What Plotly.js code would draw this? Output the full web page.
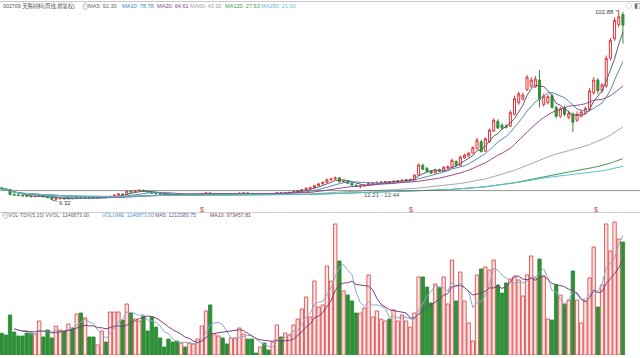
<!DOCTYPE html>
<html><head><meta charset="utf-8">
<script src="https://cdn.plot.ly/plotly-3.0.1.min.js"></script>
<style>html,body{margin:0;padding:0;background:#ffffff;}#chart{width:640px;height:358px;}</style>
</head><body><div id="chart"></div>
<script>
// Weekly candles (前复权), oldest -> newest
const opens = [12.6,12.1,11.6,9.2,8.9,8.7,8.5,8.3,8.0,8.2, 8.5,7.9,7.5,6.7,6.9,7.1,6.9,7.2,7.0,7.5, 7.2,7.6,7.4,7.3,7.4,7.6,7.5,8.2,8.8,9.4, 9.1,10.8,10.4,11.0,11.3,10.7,10.4,9.8,9.5,9.3, 9.2,9.0,8.9,8.8,8.9,8.8,8.9,9.0,9.1,9.4, 9.9,9.3,9.5,9.6,9.4,9.3,9.4,9.5,9.8,9.9, 9.7,9.6,9.55,9.6,9.5,9.45,9.6,10.0,9.8,10.0, 10.2,10.6,11.0,11.6,12.3,12.6,13.6,14.5,15.3,16.6, 17.0,17.6,15.6,16.0,14.8,13.9,13.2,13.4,13.9,14.8, 15.0,15.3,15.5,15.7,15.4,15.9,16.1,16.4,16.6,16.8, 19.0,24.0,22.5,21.0,20.0,21.8,21.0,22.6,22.8,26.0, 24.0,27.8,28.8,30.2,32.5,36.0,31.2,36.0,41.5,46.5, 44.5,44.0,44.0,50.0,56.0,57.8,62.5,64.5,64.0,67.5, 55.0,56.0,59.5,53.5,49.0,53.5,48.5,50.0,47.0,49.0, 50.5,52.5,61.0,67.5,62.0,64.5,78.6,88.5,95.8,101.0];
const highs = [12.9,12.3,11.8,9.5,9.1,8.9,8.7,8.5,8.4,8.9, 8.6,8.0,7.6,7.1,7.3,7.2,7.4,7.3,7.7,7.6, 7.8,7.7,7.5,7.5,7.8,7.7,8.4,9.0,9.6,9.6, 11.2,11.0,11.4,11.6,11.5,10.9,10.5,9.9,9.6,9.4, 9.3,9.1,9.0,9.0,8.95,9.0,9.1,9.2,9.6,10.1, 10.2,9.7,9.8,9.7,9.5,9.5,9.6,10.0,10.1,10.0, 9.8,9.65,9.7,9.65,9.55,9.7,10.2,10.1,10.2,10.4, 10.8,11.3,11.9,12.7,13.0,14.0,15.0,15.8,17.3,17.6, 18.3,17.9,16.5,16.2,15.0,14.1,13.7,14.2,15.2,15.4, 15.6,15.8,16.0,15.9,16.2,16.4,16.7,16.9,17.1,19.4, 25.0,24.8,23.0,21.5,22.3,22.3,23.6,24.0,27.3,26.5, 29.0,30.0,30.8,33.6,38.0,37.0,38.2,42.8,48.0,47.5, 45.5,45.0,52.0,59.5,61.5,61.0,70.0,69.0,69.5,72.6, 60.5,60.0,60.5,54.5,53.8,54.5,52.0,51.0,51.5,52.5, 54.0,63.5,69.0,68.5,66.0,80.0,89.0,99.5,102.88,102.2];
const lows = [11.8,11.4,8.8,8.5,8.4,8.2,8.0,7.8,7.9,8.0, 7.8,7.3,6.32,6.5,6.8,6.7,6.8,6.8,6.9,7.0, 7.1,7.3,7.2,7.2,7.3,7.4,7.4,8.1,8.7,8.9, 9.0,10.1,10.3,10.9,10.5,10.2,9.6,9.3,9.1,9.1, 8.9,8.8,8.7,8.7,8.7,8.75,8.85,8.9,9.0,9.3, 9.2,9.2,9.4,9.3,9.2,9.2,9.3,9.4,9.7,9.6, 9.5,9.5,9.5,9.4,9.4,9.4,9.5,9.7,9.7,9.9, 10.1,10.5,10.9,11.5,12.1,12.4,13.4,14.2,15.0,16.2, 16.6,15.3,15.2,14.6,13.6,12.9,12.21,13.2,13.8,14.6, 14.9,15.1,15.3,15.2,15.3,15.8,16.0,16.3,16.5,16.7, 18.8,21.5,20.5,19.6,19.8,20.6,20.8,22.2,22.5,23.5, 23.6,27.4,28.4,30.0,32.2,30.5,30.8,35.5,41.0,42.5, 42.0,42.8,43.5,49.5,55.0,57.0,62.0,63.5,63.5,53.5, 54.0,55.0,53.0,48.0,48.2,49.0,47.5,41.0,46.0,48.5, 50.0,51.5,60.0,60.5,61.0,63.5,77.5,87.5,94.5,86.0];
const closes = [12.0,11.6,9.0,8.8,8.6,8.4,8.2,8.0,8.2,8.5, 7.9,7.5,6.7,6.9,7.1,6.9,7.2,7.0,7.5,7.2, 7.6,7.4,7.3,7.4,7.6,7.5,8.2,8.8,9.4,9.1, 10.8,10.4,11.0,11.3,10.7,10.4,9.8,9.5,9.3,9.2, 9.0,8.9,8.8,8.9,8.8,8.9,9.0,9.1,9.4,9.9, 9.3,9.5,9.6,9.4,9.3,9.4,9.5,9.8,9.9,9.7, 9.6,9.55,9.6,9.5,9.45,9.6,10.0,9.8,10.0,10.2, 10.6,11.0,11.6,12.3,12.6,13.6,14.5,15.3,16.6,17.0, 17.6,15.6,16.0,14.8,13.9,13.2,13.4,13.9,14.8,15.0, 15.3,15.5,15.7,15.4,15.9,16.1,16.4,16.6,16.8,19.0, 24.2,22.0,21.0,20.0,21.5,21.0,23.0,23.2,26.5,24.0, 28.2,29.2,30.2,33.0,36.8,31.0,37.6,42.0,47.0,43.0, 43.2,43.5,51.0,58.0,60.5,59.8,69.0,67.5,68.0,57.5, 59.0,59.0,53.5,49.0,52.8,50.0,50.5,46.0,50.0,51.2, 53.0,62.0,67.5,62.0,65.0,78.5,87.8,98.0,99.8,95.5];
const volumes = [220000,203000,406000,233000,193000,193000,223000,223000,213000,345000,
183000,254000,173000,294000,254000,244000,315000,274000,416000,426000,
376000,183000,183000,102000,244000,132000,436000,436000,436000,355000,
518000,426000,365000,345000,396000,244000,386000,284000,173000,81000,
162000,132000,142000,122000,81000,122000,112000,162000,294000,447000,
508000,213000,193000,173000,112000,173000,173000,274000,213000,162000,
162000,20000,81000,122000,51000,132000,305000,183000,223000,203000,
305000,365000,467000,589000,386000,751000,487000,508000,903000,751000,
1330000,954000,650000,609000,548000,426000,426000,477000,812000,386000,
447000,365000,345000,365000,457000,345000,406000,345000,284000,426000,
792000,792000,690000,528000,721000,690000,792000,518000,964000,548000,
842000,548000,325000,142000,812000,873000,893000,863000,964000,711000,
629000,731000,771000,792000,761000,599000,812000,1005000,782000,974000,
802000,365000,355000,711000,609000,518000,558000,853000,558000,325000,
548000,782000,1096000,487000,711000,1330000,1056000,1350000,1177000,1146873];

const priceMAPeriods = [5,10,20,60,120,250];
const priceMAColors = ['#5e5e5e','#5b86b8','#9c4a8c','#a8a8a8','#3f9a4c','#5cc2d2'];
const volMAPeriods = [5,10];
const volMAColors = ['#8fa8c8','#7b3f78'];

const headerTexts = ['002709 天赐材料(周线,前复权)','MA5: 92.30','MA10: 78.78','MA20: 64.61','MA60: 43.92','MA120: 27.53','MA250: 21.00'];
const volHeaderTexts = ['VOL-TDX(5,10) VVOL: 1146873.00','VOLUME: 1146873.00','MA5: 1212383.75','MA10: 973457.81'];

function movingAvg(arr, n, startAt) {
  return arr.map((_, i) => {
    if (i < startAt) return null;
    const s = Math.max(0, i - n + 1);
    let sum = 0;
    for (let k = s; k <= i; k++) sum += arr[k];
    return sum / (i - s + 1);
  });
}

const xs = closes.map((_, i) => i);
const up = closes.map((c, i) => c >= opens[i]);

const traces = [];
traces.push({
  type: 'bar', x: xs, y: volumes, xaxis: 'x', yaxis: 'y2', width: 0.8,
  marker: {color: up.map(u => u ? '#fde6e6' : '#2f8f38'),
           line: {color: up.map(u => u ? '#e04a4a' : '#2f8f38'), width: 0.9}},
  hoverinfo: 'skip'
});
traces.push({
  type: 'candlestick', x: xs, open: opens, high: highs, low: lows, close: closes,
  xaxis: 'x', yaxis: 'y', whiskerwidth: 0,
  increasing: {line: {color: '#e2333b', width: 1}, fillcolor: '#ffffff'},
  decreasing: {line: {color: '#2f9138', width: 1}, fillcolor: '#2f9138'},
  hoverinfo: 'skip'
});
priceMAPeriods.forEach((p, k) => {
  traces.push({type: 'scatter', mode: 'lines', x: xs, y: movingAvg(closes, p, 0),
    xaxis: 'x', yaxis: 'y', line: {color: priceMAColors[k], width: 1}, hoverinfo: 'skip'});
});
volMAPeriods.forEach((p, k) => {
  traces.push({type: 'scatter', mode: 'lines', x: xs, y: movingAvg(volumes, p, 3),
    xaxis: 'x', yaxis: 'y2', line: {color: volMAColors[k], width: 1}, hoverinfo: 'skip'});
});

const W = 640, H = 358;
const font = 'Liberation Sans, Arial, Noto Sans CJK SC, sans-serif';
function txt(px, py, text, color, size) {
  return {xref: 'paper', yref: 'paper', x: px / W, y: 1 - py / H, xanchor: 'left', yanchor: 'middle',
    text: text, showarrow: false, font: {family: font, size: size || 6, color: color}};
}
const headerX = [1, 86, 120, 155, 188, 223, 259];
const headerSizes = [5.3, 5.6, 5.6, 5.6, 5.6, 5.6, 5.6];
const headerColors = ['#555555', '#666666', '#3e86c4', '#8e3f86', '#a0a0a0', '#3f9a4c', '#58c0d2'];
const annotations = headerTexts.map((t, i) => txt(headerX[i], 6, t, headerColors[i], headerSizes[i]));
annotations.push(txt(79.5, 6, '⊙', '#777777', 6.5));
const volX = [6, 100, 153, 208];
const volColors = ['#666666', '#4a96d0', '#7b4f9a', '#8b3a66'];
volHeaderTexts.forEach((t, i) => annotations.push(txt(volX[i], 215, t, volColors[i], 5.2)));
annotations.push(txt(0, 215, '⊙', '#777777', 6.5));
annotations.push(txt(623, 5, '◇', '#888888', 7));
annotations.push(txt(632, 5, '◧', '#777777', 7));
annotations.push({xref: 'x', yref: 'y', x: 148, y: 102.88, text: '102.88', showarrow: true, arrowhead: 0,
  arrowwidth: 0.8, arrowcolor: '#555', ax: -14, ay: 1, font: {family: font, size: 6, color: '#444'}});
annotations.push({xref: 'x', yref: 'y', x: 12, y: 6.32, text: '6.32', showarrow: true, arrowhead: 0,
  arrowwidth: 0.8, arrowcolor: '#555', ax: 13, ay: 3, font: {family: font, size: 6, color: '#444'}});
annotations.push({xref: 'paper', yref: 'paper', x: 381.5 / W, y: 1 - 195 / H, xanchor: 'center', yanchor: 'middle',
  text: '12.21 - 12.44', showarrow: false, font: {family: font, size: 6, color: '#555'}});
[202, 411, 596].forEach(px => annotations.push({xref: 'paper', yref: 'paper', x: px / W, y: 1 - 209 / H,
  xanchor: 'center', yanchor: 'middle', text: '$', showarrow: false, font: {family: font, size: 7, color: '#d83030'}}));

const shapes = [
  {type: 'line', xref: 'paper', yref: 'paper', x0: 0, x1: 1, y0: 1 - 1.5 / H, y1: 1 - 1.5 / H, line: {color: '#c8c8c8', width: 1}},
  {type: 'line', xref: 'paper', yref: 'paper', x0: 0, x1: 1, y0: 1 - 212.5 / H, y1: 1 - 212.5 / H, line: {color: '#cfcfcf', width: 1}},
  {type: 'line', xref: 'paper', yref: 'y', x0: 0, x1: 1, y0: 11.1, y1: 11.1, line: {color: '#666666', width: 0.7}}
];

const layout = {
  width: W, height: H, margin: {l: 0, r: 0, t: 0, b: 0},
  paper_bgcolor: '#ffffff', plot_bgcolor: 'rgba(0,0,0,0)', showlegend: false,
  xaxis: {range: [-0.41, 153.1], visible: false, rangeslider: {visible: false}, fixedrange: true},
  yaxis: {domain: [1 - 205 / H, 1 - 10 / H], range: [3.75, 103.24], visible: false, fixedrange: true},
  yaxis2: {domain: [1 - 355 / H, 1 - 221 / H], range: [0, 1360100], visible: false, fixedrange: true},
  annotations: annotations, shapes: shapes, hovermode: false
};
Plotly.newPlot('chart', traces, layout, {displayModeBar: false, staticPlot: true});
</script></body></html>
